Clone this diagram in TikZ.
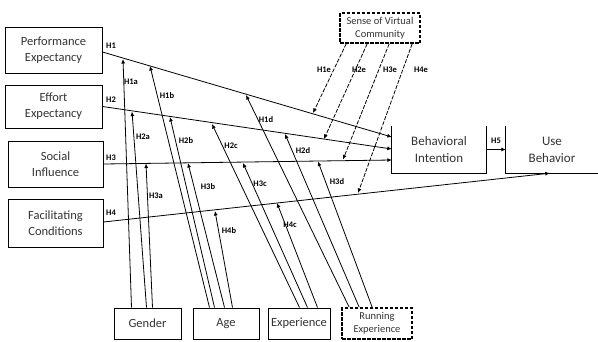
\documentclass[tikz,border=0pt]{standalone}
\usepackage{fontspec}
\setmainfont{Carlito}
\usetikzlibrary{arrows.meta,calc}
\begin{document}
\begin{tikzpicture}[x=1pt,y=-1pt,
  box/.style={draw=black,line width=1pt,inner sep=0pt,align=center,text=black!80,font=\fontsize{12.5}{16}\selectfont},
  dbox/.style={draw=black,line width=1.7pt,dash pattern=on 3.5pt off 1.5pt,inner sep=0pt,align=center,text=black!80,font=\fontsize{10.5}{13}\selectfont},
  obox/.style={inner sep=0pt,align=center,text=black!80,font=\fontsize{13}{17}\selectfont},
  side/.style={line width=1pt},
  conn/.style={line width=0.8pt,-{Latex[length=4.5pt,width=4pt]}},
  dconn/.style={conn,dash pattern=on 4pt off 1.5pt},
  lab/.style={font=\fontsize{8.5}{9}\selectfont\bfseries,inner sep=0pt}
]
\useasboundingbox (0,0) rectangle (598,341);

% left constructs
\node[box,minimum width=97pt,minimum height=46pt] (PE) at (53.5,50) {Performance\\Expectancy};
\node[box,minimum width=97pt,minimum height=43pt] (EE) at (53.5,106.5) {Effort\\Expectancy};
\node[box,minimum width=95pt,minimum height=46pt] (SI) at (55.5,164) {Social\\Influence};
\node[box,minimum width=95pt,minimum height=48pt] (FC) at (55.5,223) {Facilitating\\Conditions};

% moderators
\node[box,minimum width=67pt,minimum height=31pt] (GE) at (147.5,323.5) {Gender};
\node[box,minimum width=66pt,minimum height=31pt] (AG) at (226,323.5) {Age};
\node[box,minimum width=62pt,minimum height=31pt] (EX) at (299,323.5) {Experience};
\node[dbox,minimum width=70pt,minimum height=31pt] (RE) at (377,323.5) {Running\\Experience};
\node[dbox,minimum width=80pt,minimum height=30pt] (SV) at (380,28) {Sense of Virtual\\Community};

% outcomes (open top)
\node[obox,minimum width=94pt,minimum height=47pt] (BI) at (439,149.5) {Behavioral\\Intention};
\node[obox,minimum width=92pt,minimum height=47pt] (UB) at (552,149.5) {Use\\Behavior};
\draw[side] (BI.north west) -- (BI.south west) -- (BI.south east) -- (BI.north east);
\draw[side] (UB.north west) -- (UB.south west) -- (UB.south east);

% end points on BI and UB
\coordinate (bi1) at ($(BI.west)+(0,-12.5)$);
\coordinate (bi2) at ($(BI.west)+(0,-0.5)$);
\coordinate (bi3) at ($(BI.west)+(0,10.5)$);
\coordinate (ub4) at ($(UB.south west)+(44,0)$);

% main paths
\draw[conn] ($(PE.east)+(0,2)$) -- (bi1);
\draw[conn] (EE.east) -- (bi2);
\draw[conn] (SI.east) -- (bi3);
\draw[conn] ($(FC.east)+(0,-1)$) -- (ub4);
\draw[conn] (BI.east) -- (UB.west);

% points on the main paths
\coordinate (p1a) at (123,59);
\coordinate (p2a) at (132,111.5);
\coordinate (p3a) at (146,163.5);
\coordinate (p1b) at (150,66);
\coordinate (p2b) at (170,117);
\coordinate (p3b) at (188,163);
\coordinate (p4b) at (215,211);
\coordinate (p2c) at (212,124);
\coordinate (p3c) at (243,163);
\coordinate (p4c) at (277,203);
\coordinate (p1d) at (246,95);
\coordinate (p2d) at (285,134);
\coordinate (p3d) at (318,161.5);
\coordinate (p1e) at (313,113);
\coordinate (p2e) at (324,139);
\coordinate (p3e) at (343,159.5);
\coordinate (p4e) at (358,193);

% gender
\draw[conn] ($(GE.north west)+(18,0)$) -- (p1a);
\draw[conn] ($(GE.north west)+(33,0)$) -- (p2a);
\draw[conn] ($(GE.north west)+(39,0)$) -- (p3a);
% age
\draw[conn] ($(AG.north west)+(17,0)$) -- (p1b);
\draw[conn] ($(AG.north west)+(22,0)$) -- (p2b);
\draw[conn] ($(AG.north west)+(32,0)$) -- (p3b);
\draw[conn] ($(AG.north west)+(40,0)$) -- (p4b);
% experience
\draw[conn] ($(EX.north west)+(32,0)$) -- (p2c);
\draw[conn] ($(EX.north west)+(40,0)$) -- (p3c);
\draw[conn] ($(EX.north west)+(50,0)$) -- (p4c);
% running experience
\draw[conn] ($(RE.north west)+(8,0)$) -- (p1d);
\draw[conn] ($(RE.north west)+(18,0)$) -- (p2d);
\draw[conn] ($(RE.north west)+(31,0)$) -- (p3d);
% sense of virtual community
\draw[dconn] ($(SV.south west)+(7,0)$) -- (p1e);
\draw[dconn] ($(SV.south west)+(28,0)$) -- (p2e);
\draw[dconn] ($(SV.south west)+(50,0)$) -- (p3e);
\draw[dconn] ($(SV.south west)+(73,0)$) -- (p4e);

% labels
\node[lab] (lH1) at (111,46) {H1};
\node[lab] (lH2) at (111,100) {H2};
\node[lab] (lH3) at (111,158) {H3};
\node[lab] (lH4) at (111,213) {H4};
\node[lab] (lH5) at (496,141) {H5};
\node[lab] (l1a) at (131,82) {H1a};
\node[lab] (l1b) at (167,96) {H1b};
\node[lab] (l1d) at (266,120) {H1d};
\node[lab] (l2a) at (143,137) {H2a};
\node[lab] (l2b) at (186,141) {H2b};
\node[lab] (l2c) at (231,146) {H2c};
\node[lab] (l2d) at (303,151) {H2d};
\node[lab] (l3a) at (156,196) {H3a};
\node[lab] (l3b) at (208,187) {H3b};
\node[lab] (l3c) at (260,184) {H3c};
\node[lab] (l3d) at (337,182) {H3d};
\node[lab] (l4b) at (229,231) {H4b};
\node[lab] (l4c) at (290,225) {H4c};
\node[lab] (l1e) at (324,70) {H1e};
\node[lab] (l2e) at (359,70) {H2e};
\node[lab] (l3e) at (390,70) {H3e};
\node[lab] (l4e) at (421,70) {H4e};
\end{tikzpicture}
\end{document}
